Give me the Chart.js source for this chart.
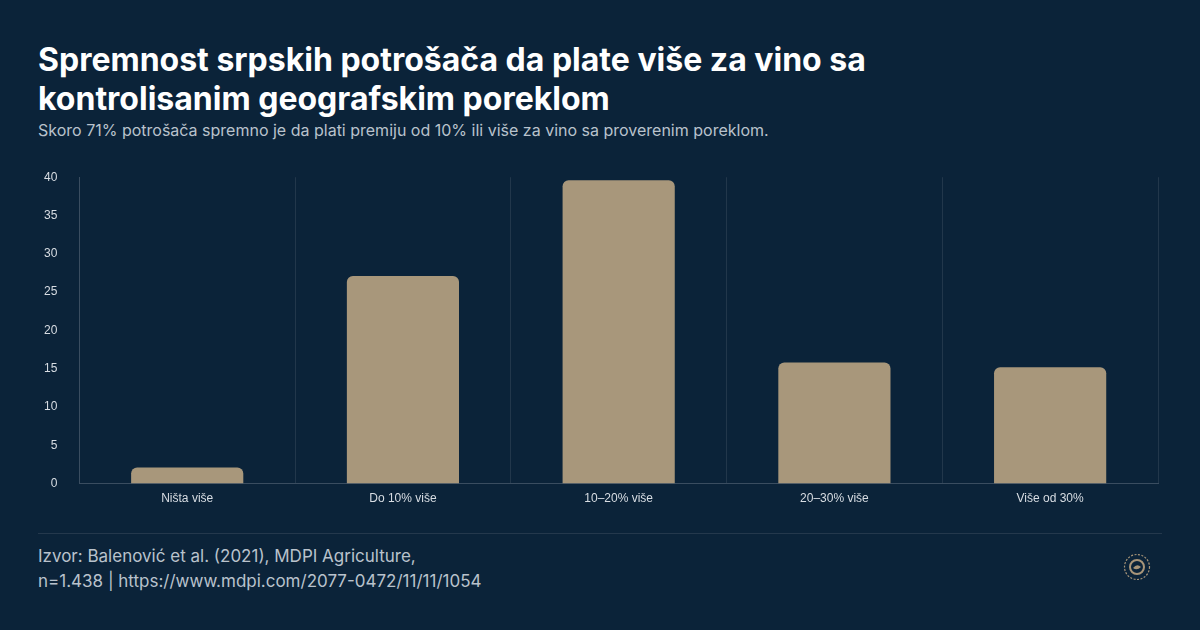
<!DOCTYPE html>
<html><head><meta charset="utf-8">
<script src="https://cdn.jsdelivr.net/npm/chart.js@4"></script>
<style>
body{margin:0;width:1200px;height:630px;background:#0b2339;font-family:Inter,sans-serif;overflow:hidden;position:relative}
h1{position:absolute;left:38px;top:40px;margin:0;color:#fff;font-size:32px;line-height:39px;font-weight:700;width:900px}
.sub{position:absolute;left:38px;top:120px;color:#b9c2cc;font-size:16px}
#wrap{position:absolute;left:30px;top:156px;width:1140px;height:358px}
.sep{position:absolute;left:38px;right:38px;top:533px;border-top:1px solid #24384c}
.src{position:absolute;left:38px;top:544px;color:#b9c2cc;font-size:17px;line-height:25px}
svg{position:absolute;left:1123px;top:553px}
</style></head><body>
<h1>Spremnost srpskih potrošača da plate više za vino sa kontrolisanim geografskim poreklom</h1>
<div class="sub">Skoro 71% potrošača spremno je da plati premiju od 10% ili više za vino sa proverenim poreklom.</div>
<div id="wrap"><canvas id="c"></canvas></div>
<div class="sep"></div>
<div class="src">Izvor: Balenović et al. (2021), MDPI Agriculture,<br>n=1.438 | https://www.mdpi.com/2077-0472/11/11/1054</div>
<svg width="28" height="28" viewBox="0 0 28 28"><circle cx="14" cy="14" r="12.5" fill="none" stroke="#a89579" stroke-width="1.2" stroke-dasharray="2 1.5"/><circle cx="14" cy="14" r="7" fill="none" stroke="#a89579" stroke-width="2"/><path d="M10 15 q4 -5 8 -1 q-4 4 -8 1z" fill="#a89579"/></svg>
<script>
const categories = ["Ništa više", "Do 10% više", "10–20% više", "20–30% više", "Više od 30%"];
const shares = [2.1, 27.1, 39.6, 15.8, 15.2];
const yTicks = [0, 5, 10, 15, 20, 25, 30, 35, 40];
new Chart(document.getElementById("c"), {
  type: "bar",
  data: { labels: categories, datasets: [{ data: shares, backgroundColor: "#a8977b", borderRadius: 6, borderSkipped: "bottom", categoryPercentage: 0.52, barPercentage: 1 }] },
  options: {
    responsive: true, maintainAspectRatio: false, animation: false,
    layout: { padding: { top: 5, right: 12 } },
    plugins: { legend: { display: false }, tooltip: { enabled: false } },
    scales: {
      x: { grid: { color: "#22374b", offset: true, drawTicks: false }, border: { color: "#3a4d60" },
           ticks: { color: "#d8dde3", font: { family: "Liberation Sans", size: 12 }, padding: 8 } },
      y: { min: 0, max: 40, afterBuildTicks: s => { s.ticks = yTicks.map(v => ({ value: v })); },
           grid: { display: false }, border: { color: "#3a4d60" },
           ticks: { color: "#d8dde3", font: { family: "Liberation Sans", size: 12 }, padding: 14 } }
    }
  }
});
</script></body></html>
